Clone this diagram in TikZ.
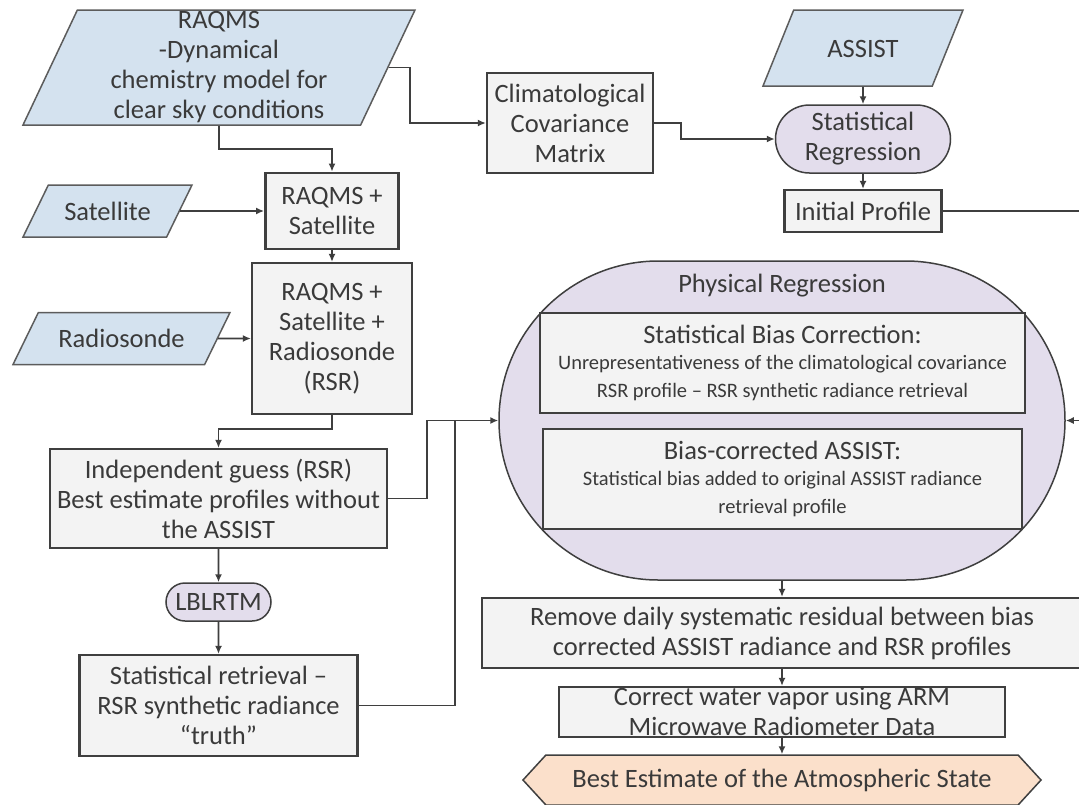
\documentclass[tikz,border=0pt]{standalone}
\usepackage{fontspec}
\setmainfont{Carlito}
\usetikzlibrary{shapes.geometric,shapes.misc,shapes.symbols,arrows.meta}
\definecolor{inputblue}{HTML}{D4E2EF}
\definecolor{procpurple}{HTML}{E3DDEC}
\definecolor{boxgray}{HTML}{F3F3F3}
\definecolor{outpeach}{HTML}{FBE0CB}
\definecolor{linegray}{HTML}{3F3F3F}
\definecolor{textgray}{HTML}{3A3A3A}
\newcommand{\bigfnt}{\fontsize{26.5}{30}\selectfont}
\newcommand{\smallfnt}{\fontsize{20.5}{27}\selectfont}
\begin{document}
\begin{tikzpicture}[x=1pt, y=-1pt,
    every node/.style={text=textgray, font=\bigfnt, align=center, inner sep=0pt},
    proc/.style={draw=linegray, line width=2.2pt, fill=boxgray},
    data/.style={trapezium, trapezium stretches body, draw=linegray!85, line width=1.5pt, fill=inputblue,
                 trapezium left angle=64, trapezium right angle=116},
    term/.style={rounded rectangle, draw=linegray, line width=1.5pt, fill=procpurple},
    flow/.style={draw=linegray, line width=1.9pt, -{Latex[length=8pt,width=7pt]}},
    link/.style={draw=linegray, line width=1.9pt}]
      \useasboundingbox[fill=white] (0,0) rectangle (1079,804);
      % inputs
      \node[data, minimum width=392, minimum height=115] (raqms) at (219,67.5)
            {RAQMS\\-Dynamical\\chemistry model for\\clear sky conditions};
      \node[data, minimum width=169, text height=35, text depth=17] (sat) at (107.5,211) {Satellite};
      \node[data, minimum width=217, text height=35, text depth=17] (radio) at (121.5,338.5) {Radiosonde};
      \node[data, trapezium left angle=68, trapezium right angle=112,
            minimum width=200, text height=47, text depth=29] (assist) at (863,48) {ASSIST};
      % left column
      \node[proc, minimum width=133, minimum height=76, line width=2.8pt] (rsat) at (332,211) {RAQMS +\\Satellite};
      \node[proc, minimum width=160, minimum height=151] (rsr) at (332,338.5) {RAQMS +\\Satellite +\\Radiosonde\\(RSR)};
      \node[proc, minimum width=337, minimum height=99] (indep) at (218.5,498.5)
            {Independent guess (RSR)\\Best estimate profiles without\\the ASSIST};
      \node[term, minimum width=105, minimum height=38] (lbl) at (218.5,602) {LBLRTM};
      \node[proc, minimum width=278, minimum height=101] (sret) at (218.5,705.5)
            {Statistical retrieval –\\RSR synthetic radiance\\“truth”};
      % top right
      \node[proc, minimum width=166, minimum height=100] (clim) at (570,123) {Climatological\\Covariance\\Matrix};
      \node[term, minimum width=175, minimum height=68] (streg) at (863,139) {Statistical\\Regression};
      \node[proc, minimum width=157, minimum height=42] (init) at (863,211) {Initial Profile};
      % physical regression
      \node[term, minimum width=566, minimum height=319,
            label={[anchor=north, yshift=-14]north:Physical Regression}] (phys) at (782,420.5) {};
      \node[proc, minimum width=485, minimum height=100] (biascor) at (782.5,363)
            {Statistical Bias Correction:\\[-4pt]{\smallfnt Unrepresentativeness of the climatological covariance}\\[-2.5pt]{\smallfnt RSR profile – RSR synthetic radiance retrieval}};
      \node[proc, minimum width=479, minimum height=100] (biasast) at (782.5,479)
            {Bias-corrected ASSIST:\\[-4pt]{\smallfnt Statistical bias added to original ASSIST radiance}\\[-2.5pt]{\smallfnt retrieval profile}};
      % bottom
      \node[proc, minimum width=600, minimum height=70] (remove) at (782,633)
            {Remove daily systematic residual between bias\\corrected ASSIST radiance and RSR profiles};
      \node[proc, minimum width=446, minimum height=50] (water) at (782,712)
            {\smash{\raisebox{-9pt}{\begin{tabular}{@{}c@{}}Correct water vapor using ARM\\Microwave Radiometer Data\end{tabular}}}};
      \node[signal, signal to=west and east, signal pointer angle=95, draw=linegray, line width=1.5pt,
            fill=outpeach, minimum width=518, minimum height=50] (best) at (782,780)
            {Best Estimate of the Atmospheric State};
      \coordinate (joint) at (455,420.5);
      % connectors
      \draw[flow] (raqms.east) -- ++(21,0) |- (clim.west);
      \draw[flow] (raqms.south) -- ++(0,23) -| (rsat.north);
      \draw[flow] (sat.east) -- (rsat.west);
      \draw[flow] (radio.east) -- (rsr.west);
      \draw[flow] (rsr.south) -- ++(0,13.5) -| (indep.north);
      \draw[flow] (indep.east) -- ++(38.5,0) |- (phys.west);
      \draw[link] (sret.east) -| (joint);
      \draw[flow] (clim.east) -- ++(27,0) |- (streg.west);
      \draw[flow] (init.east) -- ++(140,0) |- (phys.east);
      \draw[flow] (rsat) edge (rsr)
                  (indep) edge (lbl)
                  (lbl) edge (sret)
                  (assist) edge (streg)
                  (streg) edge (init)
                  (phys) edge (remove)
                  (remove) edge (water)
                  (water) edge (best);
\end{tikzpicture}
\end{document}
